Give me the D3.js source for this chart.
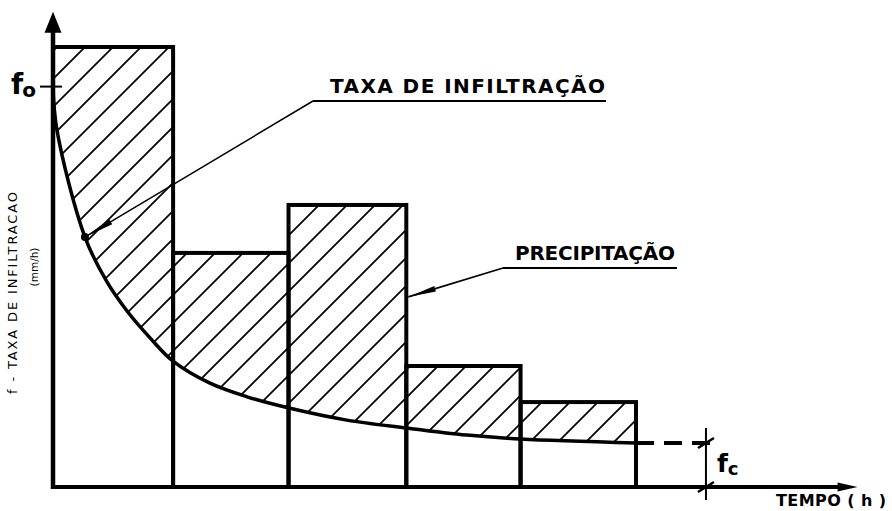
<!DOCTYPE html>
<html>
<head>
<meta charset="utf-8">
<script src="https://cdn.jsdelivr.net/npm/d3@7/dist/d3.min.js"></script>
<style>
  html, body { margin: 0; padding: 0; background: #fff; }
  svg { display: block; }
  text { font-family: "DejaVu Sans", sans-serif; fill: #000; }
</style>
</head>
<body>
<svg id="chart" width="892" height="511"></svg>
<script>
// ---- data ----
const periodEdges = [0, 1.03, 2.02, 3.03, 4.01, 5.0];      // time (h) bar edges
const rainfall    = [10, 5.32, 6.41, 2.75, 1.93];           // precipitation intensity per period
const curveTime   = [0, 0.034, 0.274, 0.463, 0.635, 0.832, 1.029, 1.346, 1.664, 2.015, 2.52, 3.03, 3.55, 4.01, 5.0];
const curveRate   = [9.1, 8.11, 5.68, 4.66, 4.0, 3.39, 2.86, 2.36, 2.05, 1.80, 1.52, 1.34, 1.18, 1.09, 1.0];
const F0 = 9.1;      // initial infiltration rate
const FC = 1.0;      // final infiltration rate
const fcExtendTo = 5.6;
const labels = {
  rate: "TAXA  DE  INFILTRAÇÃO",
  rain: "PRECIPITAÇÃO",
  xAxis: "TEMPO ( h )",
  yAxis: "f  -  TAXA  DE  INFILTRACAO",
  yUnit: "(mm/h)"
};

const svg = d3.select("#chart");
const x = d3.scaleLinear().domain([0, 5]).range([53, 636]);
const y = d3.scaleLinear().domain([0, 10]).range([487, 47]);

const curvePts = curveTime.map((t, i) => [t, curveRate[i]]);
const bars = rainfall.map((v, i) => ({ t0: periodEdges[i], t1: periodEdges[i + 1], v }));
const smooth = d3.curveCatmullRom.alpha(0.5);

// ---- clip paths for hatching ----
const defs = svg.append("defs");
defs.append("clipPath").attr("id", "clipBars")
  .selectAll("rect").data(bars).join("rect")
  .attr("x", d => x(d.t0)).attr("y", d => y(d.v))
  .attr("width", d => x(d.t1) - x(d.t0)).attr("height", d => y(0) - y(d.v));

const aboveArea = d3.area()
  .x(d => x(d[0])).y0(y(11)).y1(d => y(d[1]))
  .curve(smooth);
defs.append("clipPath").attr("id", "clipAbove")
  .append("path").attr("d", aboveArea(curvePts));

// ---- hatching ----
const hatch = svg.append("g").attr("clip-path", "url(#clipBars)")
  .append("g").attr("clip-path", "url(#clipAbove)");
const spacing = 28;
hatch.selectAll("line").data(d3.range(-500, 1200, spacing)).join("line")
  .attr("x1", c => c).attr("y1", 520)
  .attr("x2", c => c + 520).attr("y2", 0)
  .attr("stroke", "#000").attr("stroke-width", 1.8);

// ---- bars ----
svg.append("g").selectAll("rect").data(bars).join("rect")
  .attr("x", d => x(d.t0)).attr("y", d => y(d.v))
  .attr("width", d => x(d.t1) - x(d.t0)).attr("height", d => y(0) - y(d.v))
  .attr("fill", "none").attr("stroke", "#000").attr("stroke-width", 4);

// ---- infiltration curve ----
const line = d3.line().x(d => x(d[0])).y(d => y(d[1])).curve(smooth);
svg.append("path").attr("d", line(curvePts))
  .attr("fill", "none").attr("stroke", "#000").attr("stroke-width", 3.5);

// dashed fc extension
svg.append("line")
  .attr("x1", x(5)).attr("x2", x(fcExtendTo) + 4)
  .attr("y1", y(FC)).attr("y2", y(FC))
  .attr("stroke", "#000").attr("stroke-width", 4)
  .attr("stroke-dasharray", "18,10");

// ---- axes ----
const yTop = y(10.8);
const xEnd = x(6.9);
svg.append("line").attr("x1", x(0)).attr("x2", x(0)).attr("y1", y(0) + 2).attr("y2", yTop + 15)
  .attr("stroke", "#000").attr("stroke-width", 4.5);
svg.append("path")
  .attr("d", `M${x(0)},${yTop} L${x(0) - 8.5},${yTop + 21} L${x(0) + 8.5},${yTop + 21} Z`)
  .attr("fill", "#000");
svg.append("line").attr("x1", x(0) - 2).attr("x2", xEnd - 12).attr("y1", y(0)).attr("y2", y(0))
  .attr("stroke", "#000").attr("stroke-width", 4);
svg.append("path")
  .attr("d", `M${xEnd},${y(0)} L${xEnd - 20},${y(0) - 4.5} L${xEnd - 20},${y(0) + 4.5} Z`)
  .attr("fill", "#000");

// f0 tick
svg.append("line").attr("x1", x(0) - 13).attr("x2", x(0) + 9)
  .attr("y1", y(F0)).attr("y2", y(F0))
  .attr("stroke", "#000").attr("stroke-width", 2);
const f0 = svg.append("text").attr("x", 11).attr("y", y(F0) + 7)
  .attr("font-weight", "bold");
f0.append("tspan").attr("font-size", 28).text("f");
f0.append("tspan").attr("font-size", 20).attr("dx", -1).attr("dy", 3).text("o");

// fc dimension
const dimX = x(fcExtendTo);
svg.append("line").attr("x1", dimX).attr("x2", dimX)
  .attr("y1", y(FC) - 15).attr("y2", y(0) + 13)
  .attr("stroke", "#000").attr("stroke-width", 2);
[FC, 0].forEach(v => {
  svg.append("line")
    .attr("x1", dimX - 8).attr("y1", y(v) + 5)
    .attr("x2", dimX + 8).attr("y2", y(v) - 5)
    .attr("stroke", "#000").attr("stroke-width", 2.5);
});
const fc = svg.append("text").attr("x", dimX + 11).attr("y", y(FC) + 29)
  .attr("font-weight", "bold");
fc.append("tspan").attr("font-size", 25).text("f");
fc.append("tspan").attr("font-size", 18).attr("dx", 0).attr("dy", 3).text("c");

// axis titles
svg.append("text").attr("x", 776).attr("y", 506)
  .attr("font-size", 16).attr("font-weight", "bold")
  .attr("textLength", 110).attr("lengthAdjust", "spacing")
  .text(labels.xAxis);
svg.append("text")
  .attr("transform", "translate(17,293) rotate(-90)")
  .attr("text-anchor", "middle")
  .attr("font-family", "DejaVu Sans Mono").attr("font-size", 13)
  .attr("textLength", 202).attr("lengthAdjust", "spacing")
  .text(labels.yAxis);
svg.append("text")
  .attr("transform", "translate(38,267) rotate(-90)")
  .attr("text-anchor", "middle")
  .attr("font-family", "DejaVu Sans Mono").attr("font-size", 10.5)
  .text(labels.yUnit);

// ---- annotations ----
function leader(fromX, fromY, tipX, tipY, headLen, headHalf, width) {
  svg.append("line").attr("x1", fromX).attr("y1", fromY).attr("x2", tipX).attr("y2", tipY)
    .attr("stroke", "#000").attr("stroke-width", width);
  const dx = fromX - tipX, dy = fromY - tipY, L = Math.hypot(dx, dy);
  const ux = dx / L, uy = dy / L;
  const bx = tipX + ux * headLen, by = tipY + uy * headLen;
  svg.append("path")
    .attr("d", `M${tipX},${tipY} L${bx - uy * headHalf},${by + ux * headHalf} L${bx + uy * headHalf},${by - ux * headHalf} Z`)
    .attr("fill", "#000");
}

// TAXA DE INFILTRAÇÃO
const tipRate = [x(curveTime[2]), y(curveRate[2])];
svg.append("text").attr("x", 330).attr("y", 93)
  .attr("font-size", 20).attr("font-weight", "bold")
  .attr("textLength", 275).attr("lengthAdjust", "spacing")
  .text(labels.rate);
svg.append("line").attr("x1", 313).attr("x2", 606).attr("y1", 101).attr("y2", 101)
  .attr("stroke", "#000").attr("stroke-width", 2);
leader(313, 101, tipRate[0], tipRate[1], 30, 3, 1.5);
svg.append("circle").attr("cx", tipRate[0]).attr("cy", tipRate[1]).attr("r", 4).attr("fill", "#000");

// PRECIPITAÇÃO
const tipRain = [x(periodEdges[3]) + 2, y(4.32)];
svg.append("text").attr("x", 515).attr("y", 260)
  .attr("font-size", 20).attr("font-weight", "bold")
  .attr("textLength", 160).attr("lengthAdjust", "spacing")
  .text(labels.rain);
svg.append("line").attr("x1", 503).attr("x2", 677).attr("y1", 268).attr("y2", 268)
  .attr("stroke", "#000").attr("stroke-width", 2);
leader(503, 268, tipRain[0], tipRain[1], 28, 2.8, 1.8);
</script>
</body>
</html>
